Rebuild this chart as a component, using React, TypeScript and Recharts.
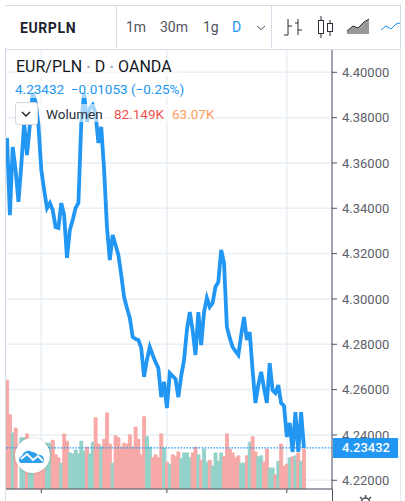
import { Bar, CartesianGrid, Cell, ComposedChart, Line, ReferenceLine, XAxis, YAxis } from "recharts";

const FONT = "Roboto, sans-serif";
const BLUE = "#2196f3";

// daily close
const closes = [
  4.371, 4.337, 4.367, 4.3569, 4.3428, 4.3591, 4.3776, 4.3635, 4.3767, 4.3909, 4.3869, 4.3767, 4.3569, 4.3481, 4.3401,
  4.3423, 4.3392, 4.3317, 4.3313, 4.3423, 4.337, 4.3181, 4.3304, 4.3348, 4.3401, 4.3423, 4.3776, 4.3909, 4.3781, 4.3842,
  4.3856, 4.382, 4.3688, 4.3759, 4.3569, 4.3317, 4.3172, 4.3282, 4.3238, 4.3194, 4.3106, 4.3009, 4.296, 4.2916, 4.2832,
  4.2823, 4.2819, 4.2784, 4.2656, 4.2731, 4.2788, 4.2753, 4.2722, 4.2695, 4.2567, 4.2634, 4.2519, 4.2673, 4.266, 4.2647,
  4.2567, 4.266, 4.2731, 4.2863, 4.2942, 4.2863, 4.2753, 4.2942, 4.2797, 4.2942, 4.3004, 4.2965, 4.2982, 4.3053, 4.3075,
  4.3216, 4.3159, 4.2876, 4.2828, 4.2788, 4.277, 4.2753, 4.2841, 4.292, 4.2819, 4.2854, 4.2687, 4.2541, 4.262, 4.2678,
  4.2607, 4.2541, 4.2717, 4.2598, 4.2585, 4.262, 4.2541, 4.2528, 4.2391, 4.2453, 4.2325, 4.2501, 4.2325, 4.2501, 4.23432,
];

// volume in thousands
const volumes = [
  223, 152, 115, 125, 0, 105, 105, 113, 80, 70, 70, 76, 80, 84, 94,
  94, 100, 70, 64, 53, 113, 98, 74, 72, 80, 72, 98, 78, 86, 72,
  96, 146, 92, 88, 102, 156, 92, 53, 109, 105, 86, 94, 92, 111, 86,
  127, 102, 70, 148, 107, 86, 64, 70, 64, 113, 84, 55, 51, 70, 66,
  76, 62, 74, 74, 64, 74, 86, 70, 59, 82, 55, 59, 47, 74, 57,
  74, 66, 113, 82, 74, 64, 68, 53, 53, 68, 96, 107, 76, 66, 68,
  55, 82, 43, 43, 29, 57, 92, 47, 51, 64, 66, 68, 74, 57, 82,
];

// d = down day, u = up day, 15 per row like the arrays above
const directions = [
  "ddudduuduuddddu",
  "udddudduuuuuudu",
  "udduddduddddddd",
  "dddduuddddududd",
  "duuuudduduuduuu",
  "udddddduududduu",
  "dduududddududud",
]
  .join("")
  .split("");

const dayIndex = closes.map((_, i) => i);
const priceTicks = [4.22, 4.24, 4.26, 4.28, 4.3, 4.32, 4.34, 4.36, 4.38, 4.4];
const timeTicks = [12, 56, 98];
const lastPrice = 4.23432;

const rows = dayIndex.map((i) => ({ day: i, close: closes[i], volume: volumes[i], dir: directions[i] }));

function Text({ x, y, size = 14, color = "#50535e", weight = 400, children }: any) {
  return (
    <div
      style={{
        position: "absolute",
        left: x,
        top: y,
        fontSize: size,
        color,
        fontWeight: weight,
        lineHeight: "20px",
        whiteSpace: "nowrap",
      }}
    >
      {children}
    </div>
  );
}

function Box({ x, y, w, h, style }: any) {
  return <div style={{ position: "absolute", left: x, top: y, width: w, height: h, ...style }} />;
}

function Toolbar() {
  return (
    <>
      <Box x={5} y={5} w={395} h={43} style={{ background: "#fff", borderTop: "1px solid #d6dce8", borderBottom: "1px solid #d6dce8", borderRight: "1px solid #d6dce8" }} />
      <Box x={116} y={6} w={1} h={42} style={{ background: "#d6dce8" }} />
      <Box x={271} y={6} w={1} h={42} style={{ background: "#d6dce8" }} />
      <Text x={20} y={18} size={14} color="#1e222d" weight={700}><span style={{ letterSpacing: 0.6 }}>EURPLN</span></Text>
      <Text x={126} y={17}>1m</Text>
      <Text x={160} y={17}>30m</Text>
      <Text x={203} y={17}>1g</Text>
      <Text x={232} y={17} color={BLUE}>D</Text>
      <svg style={{ position: "absolute", left: 0, top: 0 }} width={405} height={60}>
        <path d="M257 26l4 3.5 4-3.5" fill="none" stroke="#50535e" />
        <path d="M288 19v16M284 35h4M288 26h4M298 19v16M298 23h-3M298 30h4" fill="none" stroke="#2a2e39" />
        <rect x={318.5} y={20.5} width={5} height={13} fill="#fff" stroke="#2a2e39" />
        <path d="M321 16v4M321 34v4" stroke="#2a2e39" />
        <rect x={327.5} y={23.5} width={5} height={8} fill="#fff" stroke="#2a2e39" />
        <path d="M330 20v3M330 32v4" stroke="#2a2e39" />
        <path d="M347 34v-3l6-5 5 2 6-6 5-3v15z" fill="#555" opacity={0.6} />
        <path d="M347 31l6-5 5 2 6-6 5-3" fill="none" stroke="#2a2e39" />
        <path d="M381 30l5-4 5 3 5-5 4-1" fill="none" stroke={BLUE} />
      </svg>
    </>
  );
}

function Legend() {
  return (
    <>
      <Box x={15} y={58} w={164} h={19} style={{ background: "rgba(255,255,255,.6)" }} />
      <Box x={15} y={80} w={174} h={18} style={{ background: "rgba(255,255,255,.6)" }} />
      <Box x={40} y={104} w={177} h={18} style={{ background: "rgba(255,255,255,.6)" }} />
      <Text x={16} y={57} size={16} color="#131722">
        EUR/PLN <span style={{ color: "#a0a4ae", fontWeight: 700 }}>·</span> D <span style={{ color: "#a0a4ae", fontWeight: 700 }}>·</span> OANDA
      </Text>
      <Text x={15} y={79} size={13.5} color={BLUE}>4.23432 &nbsp;−0.01053 (−0.25%)</Text>
      <Box x={15} y={102} w={21} h={21} style={{ background: "#fff", border: "1px solid #d6d8e0", borderRadius: 3 }} />
      <svg style={{ position: "absolute", left: 15, top: 102 }} width={23} height={23}>
        <path d="M7 10l4 4 4-4" fill="none" stroke="#131722" strokeWidth={1.3} />
      </svg>
      <Text x={46} y={104} size={13.5} color="#2a2e39">Wolumen</Text>
      <Text x={114} y={104} size={13.5} color="#ef5350">82.149K</Text>
      <Text x={172} y={104} size={13.5} color="#ff9d5c">63.07K</Text>
    </>
  );
}

export default function App() {
  return (
    <div style={{ position: "absolute", left: 0, top: 0, width: 405, height: 501, overflow: "hidden", background: "#fff", fontFamily: FONT }}>
      <ComposedChart
        width={405}
        height={501}
        data={rows}
        margin={{ left: 5.6, right: 5, top: 49, bottom: 0 }}
        barCategoryGap={0}
        barGap={0}
      >
        <CartesianGrid yAxisId="price" stroke="#e9eff6" strokeWidth={1.5} />
        <XAxis
          dataKey="day"
          ticks={timeTicks}
          interval={0}
          height={12}
          padding={{ left: 0, right: 26.6 }}
          stroke="#50535e"
          tickSize={4}
          tickFormatter={() => ""}
        />
        <YAxis
          yAxisId="price"
          orientation="right"
          width={68}
          domain={[4.21615, 4.41028]}
          allowDataOverflow
          ticks={priceTicks}
          interval={0}
          stroke="#50535e"
          tickSize={5}
          tickMargin={5}
          tick={{ fill: "#5d606b", fontSize: 13, fontFamily: FONT }}
          tickFormatter={(v) => Number(v).toFixed(5)}
        />
        <YAxis yAxisId="vol" hide domain={[0, 902]} allowDataOverflow />
        <Bar yAxisId="vol" dataKey="volume" isAnimationActive={false}>
          {rows.map((r) => {
            const c = r.dir === "u" ? "#93d2ca" : "#f7a9a7";
            // bar width comes back as a whole pixel, the stroke makes up the band
            return <Cell key={r.day} fill={c} stroke={c} strokeWidth={r.volume ? 0.9 : 0} />;
          })}
        </Bar>
        <Line
          yAxisId="price"
          type="linear"
          dataKey="close"
          stroke={BLUE}
          strokeWidth={3.8}
          strokeLinejoin="miter"
          dot={false}
          isAnimationActive={false}
        />
        <ReferenceLine yAxisId="price" y={lastPrice} stroke={BLUE} strokeWidth={1.2} strokeDasharray="1.5 1.5" />
      </ComposedChart>

      <Toolbar />
      <Legend />

      {/* frame and price axis stub below the plot */}
      <Box x={5} y={48} w={1} h={453} style={{ background: "#d6dce8" }} />
      <Box x={400} y={48} w={1} h={453} style={{ background: "#e6e9f0" }} />
      <Box x={332} y={489} w={1} h={12} style={{ background: "#50535e" }} />

      {/* last price label */}
      <div
        style={{
          position: "absolute",
          left: 333,
          top: 438,
          width: 65,
          height: 20,
          background: BLUE,
          color: "#fff",
          fontSize: 13,
          fontWeight: 500,
          lineHeight: "20px",
          paddingLeft: 9,
          boxSizing: "border-box",
        }}
      >
        4.23432
      </div>

      {/* logo button */}
      <div
        style={{
          position: "absolute",
          left: 15,
          top: 438,
          width: 35,
          height: 35,
          borderRadius: "50%",
          background: "#fff",
          boxShadow: "0 0 3px rgba(0,0,0,.2)",
        }}
      >
        <svg width={35} height={35}>
          <path
            d="M6 25c-3-1-2.5-6 1-7 1-4 6-7 10-4 3 0 5 2 6 3 3-1 6 2 6 5 0 2-1 3-3 3z"
            fill="#2f9feb"
          />
          <path d="M6 21l6-5 6 6 5-4 5 5" fill="none" stroke="#fff" strokeWidth={2} />
        </svg>
      </div>

      {/* settings gear, cut off by the window */}
      <svg style={{ position: "absolute", left: 358, top: 495 }} width={15} height={6}>
        <circle cx={7.5} cy={7} r={4} fill="none" stroke="#50535e" strokeWidth={1.5} />
        <path d="M7.5 0v3M2 2l2 2M13 2l-2 2" stroke="#50535e" strokeWidth={1.5} />
      </svg>
    </div>
  );
}
